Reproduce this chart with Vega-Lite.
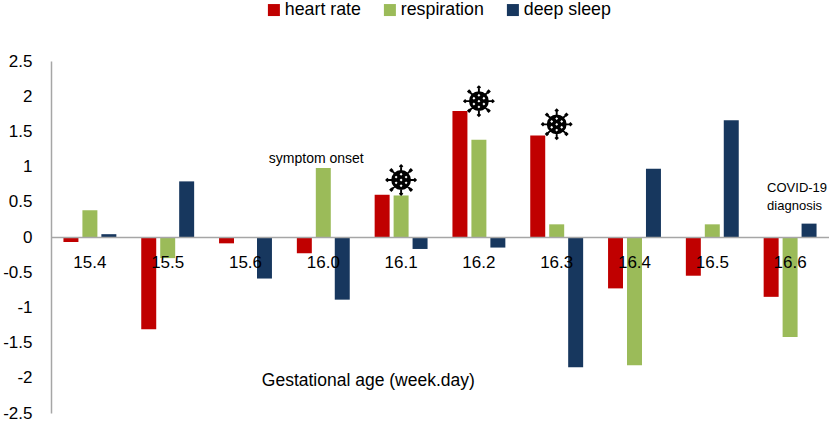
{
  "$schema": "https://vega.github.io/schema/vega-lite/v6.json",
  "width": 778,
  "height": 352,
  "autosize": {"type": "none"},
  "padding": {"left": 51, "top": 61, "right": 0, "bottom": 9},
  "config": {"view": {"stroke": null}, "font": "Liberation Sans"},
  "datasets": {
    "scores": [
      {"week": "15.4", "series": "heart rate", "value": -0.07},
      {"week": "15.4", "series": "respiration", "value": 0.38},
      {"week": "15.4", "series": "deep sleep", "value": 0.04},
      {"week": "15.5", "series": "heart rate", "value": -1.31},
      {"week": "15.5", "series": "respiration", "value": -0.3},
      {"week": "15.5", "series": "deep sleep", "value": 0.79},
      {"week": "15.6", "series": "heart rate", "value": -0.09},
      {"week": "15.6", "series": "respiration", "value": -0.01},
      {"week": "15.6", "series": "deep sleep", "value": -0.59},
      {"week": "16.0", "series": "heart rate", "value": -0.23},
      {"week": "16.0", "series": "respiration", "value": 0.98},
      {"week": "16.0", "series": "deep sleep", "value": -0.89},
      {"week": "16.1", "series": "heart rate", "value": 0.6},
      {"week": "16.1", "series": "respiration", "value": 0.59},
      {"week": "16.1", "series": "deep sleep", "value": -0.17},
      {"week": "16.2", "series": "heart rate", "value": 1.79},
      {"week": "16.2", "series": "respiration", "value": 1.38},
      {"week": "16.2", "series": "deep sleep", "value": -0.15},
      {"week": "16.3", "series": "heart rate", "value": 1.44},
      {"week": "16.3", "series": "respiration", "value": 0.18},
      {"week": "16.3", "series": "deep sleep", "value": -1.85},
      {"week": "16.4", "series": "heart rate", "value": -0.73},
      {"week": "16.4", "series": "respiration", "value": -1.82},
      {"week": "16.4", "series": "deep sleep", "value": 0.97},
      {"week": "16.5", "series": "heart rate", "value": -0.55},
      {"week": "16.5", "series": "respiration", "value": 0.18},
      {"week": "16.5", "series": "deep sleep", "value": 1.66},
      {"week": "16.6", "series": "heart rate", "value": -0.85},
      {"week": "16.6", "series": "respiration", "value": -1.42},
      {"week": "16.6", "series": "deep sleep", "value": 0.19}
    ],
    "icons": [
      {"week": "16.1", "value": 0.81},
      {"week": "16.2", "value": 1.93},
      {"week": "16.3", "value": 1.6}
    ]
  },
  "layer": [
    {
      "data": {"name": "scores"},
      "mark": {"type": "bar"},
      "encoding": {
        "x": {
          "field": "week",
          "type": "nominal",
          "sort": null,
          "scale": {"paddingInner": 0.32, "paddingOuter": 0.16},
          "axis": {
            "title": null,
            "orient": "bottom",
            "offset": -176,
            "ticks": false,
            "labelAngle": 0,
            "labelPadding": 17,
            "labelFontSize": 17,
            "labelColor": "black",
            "domainColor": "#A6A6A6",
            "domainWidth": 1.5,
            "zindex": 1
          }
        },
        "xOffset": {
          "field": "series",
          "sort": ["heart rate", "respiration", "deep sleep"],
          "scale": {"paddingInner": 0.21}
        },
        "y": {
          "field": "value",
          "type": "quantitative",
          "scale": {"domain": [-2.5, 2.5], "nice": false},
          "axis": {
            "title": null,
            "values": [-2.5, -2, -1.5, -1, -0.5, 0, 0.5, 1, 1.5, 2, 2.5],
            "tickCount": 20,
            "labelExpr": "'' + datum.value",
            "labelOverlap": false,
            "ticks": false,
            "grid": false,
            "labelPadding": 19,
            "labelFontSize": 17,
            "labelColor": "black",
            "domainColor": "#A6A6A6",
            "domainWidth": 1.5
          }
        },
        "color": {
          "field": "series",
          "type": "nominal",
          "scale": {
            "domain": ["heart rate", "respiration", "deep sleep"],
            "range": ["#C00000", "#9BBB59", "#17375E"]
          },
          "legend": {
            "title": null,
            "orient": "none",
            "legendX": 214,
            "legendY": -60,
            "direction": "horizontal",
            "symbolType": "square",
            "symbolSize": 144,
            "symbolStrokeWidth": 0,
            "labelFontSize": 17.8,
            "labelColor": "black",
            "labelOffset": 2,
            "columnPadding": 20
          }
        }
      }
    },
    {
      "data": {"values": [{"week": "16.0", "value": 1.11, "note": "symptom onset"}]},
      "mark": {"type": "text", "fontSize": 14, "color": "black", "align": "center", "baseline": "middle", "dx": -7},
      "encoding": {
        "x": {"field": "week", "type": "nominal"},
        "y": {"field": "value", "type": "quantitative"},
        "text": {"field": "note"}
      }
    },
    {
      "data": {"values": [{"week": "16.6", "value": 0.7, "note": ["COVID-19", "diagnosis"]}]},
      "mark": {"type": "text", "fontSize": 13, "color": "black", "align": "left", "baseline": "middle", "lineHeight": 18, "dx": -23},
      "encoding": {
        "x": {"field": "week", "type": "nominal"},
        "y": {"field": "value", "type": "quantitative"},
        "text": {"field": "note"}
      }
    },
    {
      "data": {"values": [{"week": "16.0", "value": -2.045, "note": "Gestational age (week.day)"}]},
      "mark": {"type": "text", "fontSize": 17.5, "color": "black", "align": "center", "baseline": "middle", "dx": 45},
      "encoding": {
        "x": {"field": "week", "type": "nominal"},
        "y": {"field": "value", "type": "quantitative"},
        "text": {"field": "note"}
      }
    },
    {
      "data": {"name": "icons"},
      "mark": {
        "type": "point",
        "filled": true,
        "color": "black",
        "opacity": 1,
        "size": 1024,
        "dx": -5,
        "shape": "M0.62,0L0.573,0.237L0.438,0.438L0.237,0.573L0,0.62L-0.237,0.573L-0.438,0.438L-0.573,0.237L-0.62,0L-0.573,-0.237L-0.438,-0.438L-0.237,-0.573L0,-0.62L0.237,-0.573L0.438,-0.438L0.573,-0.237Z M0.56,-0.06L0.8,-0.06L0.8,0.06L0.56,0.06Z M0.06,0.56L0.06,0.8L-0.06,0.8L-0.06,0.56Z M-0.56,0.06L-0.8,0.06L-0.8,-0.06L-0.56,-0.06Z M-0.06,-0.56L-0.06,-0.8L0.06,-0.8L0.06,-0.56Z M0.438,0.354L0.608,0.523L0.523,0.608L0.354,0.438Z M-0.354,0.438L-0.523,0.608L-0.608,0.523L-0.438,0.354Z M-0.438,-0.354L-0.608,-0.523L-0.523,-0.608L-0.354,-0.438Z M0.354,-0.438L0.523,-0.608L0.608,-0.523L0.438,-0.354Z M0.86,-0.14L1,0L0.86,0.14L0.72,0Z M0,0.72L0.14,0.86L0,1L-0.14,0.86Z M-0.86,-0.14L-0.72,0L-0.86,0.14L-1,0Z M0,-1L0.14,-0.86L0,-0.72L-0.14,-0.86Z M0.608,0.468L0.748,0.608L0.608,0.748L0.468,0.608Z M-0.608,0.468L-0.468,0.608L-0.608,0.748L-0.748,0.608Z M-0.608,-0.748L-0.468,-0.608L-0.608,-0.468L-0.748,-0.608Z M0.608,-0.748L0.748,-0.608L0.608,-0.468L0.468,-0.608Z M0.312,0.09L0.222,0.18L0.312,0.27L0.402,0.18Z M0,0.27L-0.09,0.36L0,0.45L0.09,0.36Z M-0.312,0.09L-0.402,0.18L-0.312,0.27L-0.222,0.18Z M-0.312,-0.27L-0.402,-0.18L-0.312,-0.09L-0.222,-0.18Z M0,-0.45L-0.09,-0.36L0,-0.27L0.09,-0.36Z M0.312,-0.27L0.222,-0.18L0.312,-0.09L0.402,-0.18Z M0,-0.09L-0.09,0L0,0.09L0.09,0Z"
      },
      "encoding": {
        "x": {"field": "week", "type": "nominal"},
        "y": {"field": "value", "type": "quantitative"}
      }
    }
  ]
}
